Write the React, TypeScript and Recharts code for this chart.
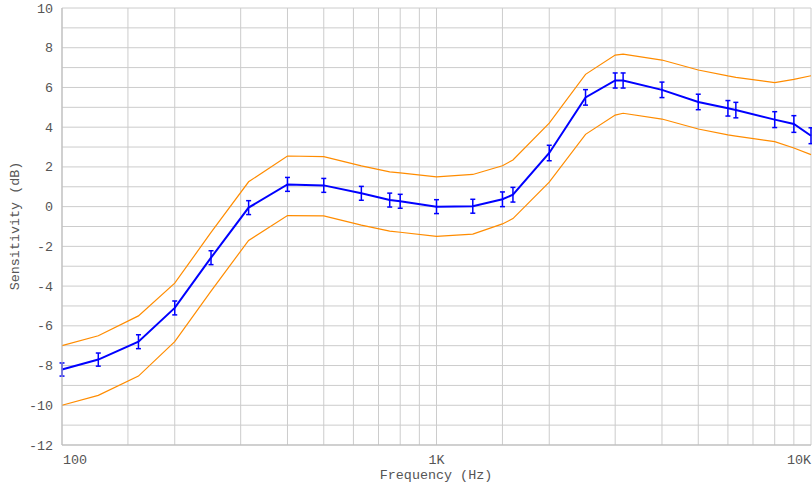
import { LineChart, Line, XAxis, YAxis, CartesianGrid, ErrorBar, Label } from 'recharts';

const FREQS = [100, 125, 160, 200, 250, 315, 400, 500, 630, 750, 800, 1000, 1250, 1500, 1600, 2000, 2500, 3000, 3150, 4000, 5000, 6000, 6300, 8000, 9000, 10000];
const MEAN = [-8.2, -7.7, -6.8, -5.1, -2.57, -0.05, 1.12, 1.07, 0.67, 0.33, 0.27, 0.0, 0.02, 0.37, 0.6, 2.7, 5.5, 6.35, 6.35, 5.88, 5.27, 4.95, 4.86, 4.38, 4.16, 3.57];
const UPPER = [-7.0, -6.5, -5.5, -3.85, -1.3, 1.25, 2.55, 2.52, 2.05, 1.75, 1.7, 1.5, 1.62, 2.06, 2.35, 4.2, 6.66, 7.63, 7.68, 7.38, 6.88, 6.58, 6.51, 6.24, 6.41, 6.59];
const LOWER = [-10.0, -9.5, -8.53, -6.8, -4.25, -1.7, -0.45, -0.47, -0.93, -1.23, -1.29, -1.5, -1.38, -0.87, -0.6, 1.23, 3.64, 4.61, 4.7, 4.41, 3.91, 3.61, 3.55, 3.27, 2.95, 2.62];
const ERR = [0.33, 0.33, 0.35, 0.35, 0.35, 0.35, 0.35, 0.35, 0.35, 0.35, 0.35, 0.35, 0.35, 0.37, 0.37, 0.39, 0.39, 0.38, 0.38, 0.39, 0.39, 0.39, 0.39, 0.4, 0.42, 0.4];

const X_TICKS = [100, 150, 200, 300, 400, 500, 600, 700, 800, 900, 1000, 1500, 2000, 3000, 4000, 5000, 6000, 7000, 8000, 9000, 10000];
const X_LABELS: Record<number, string> = { 100: '100', 1000: '1K', 10000: '10K' };
const Y_TICKS = [-12, -11, -10, -9, -8, -7, -6, -5, -4, -3, -2, -1, 0, 1, 2, 3, 4, 5, 6, 7, 8, 9, 10];

const data = FREQS.map((f, i) => ({ f, mean: MEAN[i], upper: UPPER[i], lower: LOWER[i], err: ERR[i] }));

const FONT = '"Liberation Mono", "Courier New", monospace';
const TEXT = '#555555';

function XTick({ x, payload }: any) {
  const label = X_LABELS[payload.value];
  if (!label) return null;
  const anchor = payload.value === 100 ? 'start' : payload.value === 10000 ? 'end' : 'middle';
  return (
    <text x={payload.value === 100 ? x + 1 : x} y={464} textAnchor={anchor} fontFamily={FONT} fontSize={13.4} fill={TEXT}>
      {label}
    </text>
  );
}

function YTick({ y, payload }: any) {
  if (payload.value % 2 !== 0) return null;
  return (
    <text x={53} y={y + 4.5} textAnchor="end" fontFamily={FONT} fontSize={13.4} fill={TEXT}>
      {payload.value}
    </text>
  );
}

export default function App() {
  return (
    <div style={{ position: 'absolute', left: 0, top: 0, width: 812, height: 488, background: '#fff' }}>
      <LineChart width={812} height={488} data={data} margin={{ top: 8, right: 1, bottom: 0, left: 0 }}>
        <CartesianGrid stroke="#cccccc" strokeWidth={1} />
        <XAxis
          dataKey="f"
          type="number"
          scale="log"
          domain={[100, 10000]}
          ticks={X_TICKS}
          interval={0}
          height={43}
          tickLine={false}
          axisLine={{ stroke: '#bbbbbb' }}
          tick={<XTick />}
        >
          <Label
            content={() => (
              <text x={436} y={479} textAnchor="middle" fontFamily={FONT} fontSize={13.4} fill={TEXT}>
                Frequency (Hz)
              </text>
            )}
          />
        </XAxis>
        <YAxis
          type="number"
          domain={[-12, 10]}
          ticks={Y_TICKS}
          interval={0}
          width={62}
          tickLine={false}
          axisLine={{ stroke: '#bbbbbb' }}
          tick={<YTick />}
        >
          <Label
            content={() => (
              <text x={19} y={226} transform="rotate(-90 19 226)" textAnchor="middle" fontFamily={FONT} fontSize={13.4} fill={TEXT}>
                Sensitivity (dB)
              </text>
            )}
          />
        </YAxis>
        <Line dataKey="upper" stroke="#ff8c00" strokeWidth={1.2} dot={false} isAnimationActive={false} />
        <Line dataKey="lower" stroke="#ff8c00" strokeWidth={1.2} dot={false} isAnimationActive={false} />
        <Line dataKey="mean" stroke="#0000ff" strokeWidth={2} dot={false} isAnimationActive={false}>
          <ErrorBar dataKey="err" direction="y" width={2.5} stroke="#0000ff" strokeWidth={1.5} isAnimationActive={false} />
        </Line>
      </LineChart>
    </div>
  );
}
